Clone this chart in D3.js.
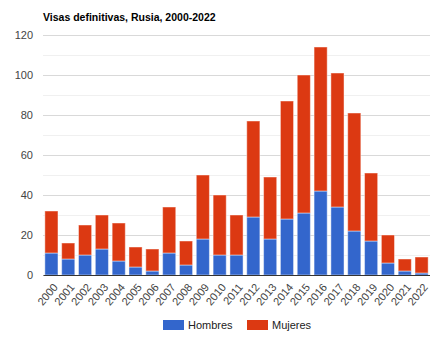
<!DOCTYPE html>
<meta charset="utf-8">
<script src="https://d3js.org/d3.v7.min.js"></script>
<style>
  body { margin: 0; background: #fff; }
  text { font-family: Arial, "Liberation Sans", sans-serif; }
</style>
<div class="canvas"></div>
<script>
    const width = 430
    const height = 344
    const margin = {"top": 35, "right": 0, "bottom": 69, "left": 43}
    const graphWidth = width - margin.left - margin.right
    const graphHeight = height - margin.top - margin.bottom

    // data
    const years = ["2000","2001","2002","2003","2004","2005","2006","2007","2008","2009","2010","2011",
                   "2012","2013","2014","2015","2016","2017","2018","2019","2020","2021","2022"]
    const hombres = [11, 8, 10, 13, 7, 4, 2, 11, 5, 18, 10, 10, 29, 18, 28, 31, 42, 34, 22, 17, 6, 2, 1]
    const mujeres = [21, 8, 15, 17, 19, 10, 11, 23, 12, 32, 30, 20, 48, 31, 59, 69, 72, 67, 59, 34, 14, 6, 8]
    const yTicks = [0, 20, 40, 60, 80, 100, 120]
    const seriesNames = ["Hombres", "Mujeres"]
    const colors = ["#3366cc", "#dc3912"]

    const table = years.map((y, i) => ({year: y, Hombres: hombres[i], Mujeres: mujeres[i]}))
    const stacked = d3.stack().keys(seriesNames)(table)

    const svg = d3.select(".canvas")
                .append("svg")
                .attr("width", width)
                .attr("height", height)

    svg.append("text")
        .attr("x", 43)
        .attr("y", 21)
        .attr("font-weight", "bold")
        .attr("font-size", 10.5)
        .attr("fill", "#000")
        .text("Visas definitivas, Rusia, 2000-2022")

    const graph = svg.append("g")
                    .attr("transform", `translate(${margin.left},${margin.top})`)

    const x = d3.scaleBand()
                .domain(years)
                .range([0, graphWidth])
                .paddingInner(0.22)
                .paddingOuter(0.11)

    const y = d3.scaleLinear()
                .domain([0, 120])
                .range([graphHeight, 0])

    // minor gridlines
    graph.append("g").selectAll("line")
        .data(d3.range(10, 120, 20))
        .join("line")
        .attr("x1", 0).attr("x2", graphWidth)
        .attr("y1", d => Math.round(y(d)) + 0.5).attr("y2", d => Math.round(y(d)) + 0.5)
        .attr("stroke", "#f0f0f0")

    // major gridlines + labels
    const gYAxis = graph.append("g")
        .call(d3.axisLeft(y).tickValues(yTicks).tickSize(-graphWidth).tickPadding(10))
    gYAxis.select(".domain").remove()
    gYAxis.selectAll("line").attr("stroke", "#d9d9d9")
    gYAxis.selectAll("text").attr("font-size", 11).attr("fill", "#444")
        .attr("font-family", "Arial, 'Liberation Sans', sans-serif")

    graph.append("g").selectAll("g")
        .data(stacked)
        .join("g")
        .attr("fill", (d, i) => colors[i])
        .selectAll("rect")
        .data(d => d)
        .join("rect")
        .attr("x", d => x(d.data.year))
        .attr("width", x.bandwidth())
        .attr("y", d => y(d[1]))
        .attr("height", d => y(d[0]) - y(d[1]))
        .attr("stroke", "#fff")
        .attr("stroke-opacity", 0.45)
        .attr("stroke-width", 1)

    // baseline and x labels
    const gXAxis = graph.append("g")
        .attr("transform", `translate(0,${graphHeight})`)
        .call(d3.axisBottom(x).tickSize(0).tickPadding(0))
    gXAxis.select(".domain").attr("stroke", "#333")
    gXAxis.selectAll("text")
        .attr("font-size", 11)
        .attr("fill", "#444")
        .attr("font-family", "Arial, 'Liberation Sans', sans-serif")
        .attr("text-anchor", "end")
        .attr("dy", "0.35em")
        .attr("transform", "translate(4,10) rotate(-50)")

    // legend
    const legend = svg.append("g")
        .attr("transform", "translate(163,320)")
    const legendX = [0, 84]
    seriesNames.forEach((name, i) => {
        legend.append("rect")
            .attr("x", legendX[i]).attr("y", 0)
            .attr("width", 21).attr("height", 10)
            .attr("fill", colors[i])
        legend.append("text")
            .attr("x", legendX[i] + 25).attr("y", 9)
            .attr("font-size", 11)
            .attr("fill", "#222")
            .text(name)
    })
</script>
